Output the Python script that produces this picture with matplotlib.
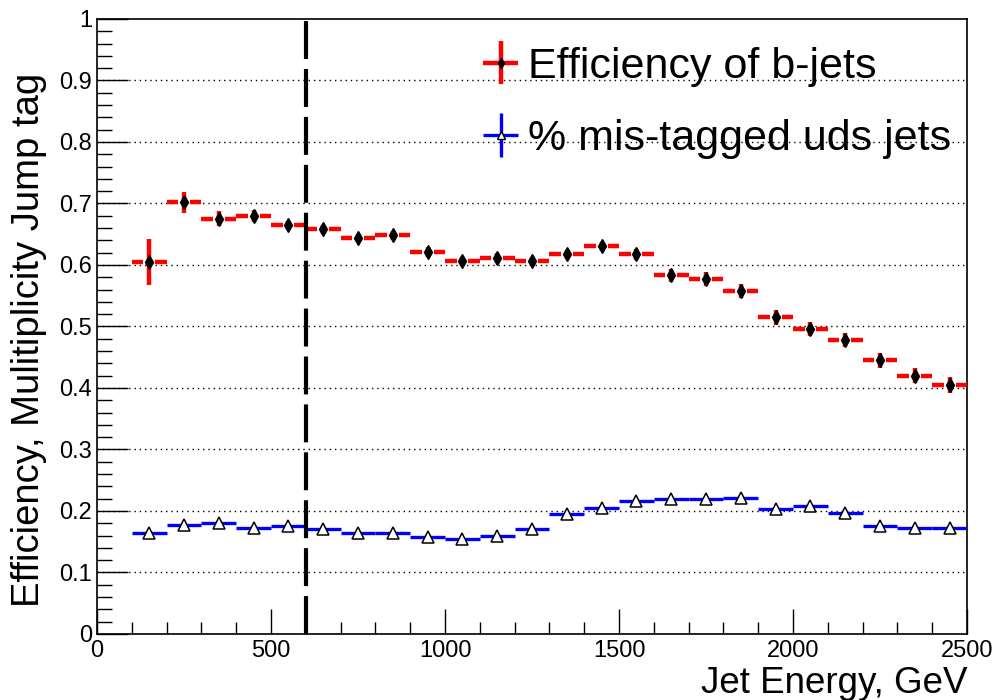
import numpy as np
import matplotlib
matplotlib.use('Agg')
import matplotlib.pyplot as plt
from matplotlib.ticker import MultipleLocator, FormatStrFormatter
from matplotlib.legend_handler import HandlerErrorbar

plt.rcParams['font.family'] = ['Liberation Sans', 'DejaVu Sans']

# bin centres (GeV), 100 GeV wide bins
energy = [150, 250, 350, 450, 550, 650, 750, 850, 950, 1050, 1150, 1250,
          1350, 1450, 1550, 1650, 1750, 1850, 1950, 2050, 2150, 2250, 2350, 2450]
bin_half = 50

eff_b = [0.605, 0.702, 0.675, 0.679, 0.665, 0.658, 0.644, 0.648, 0.621, 0.606, 0.611, 0.606,
         0.617, 0.630, 0.617, 0.583, 0.577, 0.558, 0.515, 0.496, 0.478, 0.445, 0.420, 0.404]
eff_b_err = [0.037, 0.017, 0.012, 0.010, 0.007, 0.007, 0.007, 0.007, 0.008, 0.007, 0.008, 0.007,
             0.008, 0.008, 0.009, 0.010, 0.011, 0.011, 0.012, 0.012, 0.012, 0.012, 0.012, 0.013]

mistag_uds = [0.164, 0.178, 0.180, 0.173, 0.176, 0.170, 0.164, 0.164, 0.158, 0.154, 0.159, 0.170,
              0.195, 0.205, 0.217, 0.219, 0.219, 0.221, 0.204, 0.208, 0.197, 0.176, 0.173, 0.173]

cut_energy = 600

x = np.array(energy)
gap = 17

fig = plt.figure(figsize=(9.98, 7.0), dpi=100)
ax = fig.add_axes([0.0972, 0.0943, 0.969 - 0.0972, 0.973 - 0.0943])

# grid
for yv in np.arange(0.1, 1.0, 0.1):
    ax.axhline(yv, color='black', linestyle=(0, (1, 2.8)), linewidth=1.0, zorder=1)

# blue: mis-tagged uds
ax.hlines(mistag_uds, x - bin_half, x + bin_half, color='blue', linewidth=2.4, zorder=3)
ax.plot(x, mistag_uds, linestyle='none', marker='^', markersize=9,
        markerfacecolor='white', markeredgecolor='black', markeredgewidth=1.1, zorder=4)

# red: b-jet efficiency
y = np.array(eff_b)
ax.hlines(y, x - bin_half, x - gap, color='red', linewidth=3.2, zorder=3)
ax.hlines(y, x + gap, x + bin_half, color='red', linewidth=3.2, zorder=3)
ax.vlines(x, y - np.array(eff_b_err), y + np.array(eff_b_err), color='red', linewidth=3.2, zorder=3)
ax.plot(x, y, linestyle='none', marker='d', markersize=7.5, color='black', zorder=5)

# cut line
ax.axvline(cut_energy, color='black', linewidth=3.0, dashes=(9.1, 2.4), zorder=6)

ax.set_xlim(0, 2500)
ax.set_ylim(0, 1)
ax.xaxis.set_major_locator(MultipleLocator(500))
ax.xaxis.set_minor_locator(MultipleLocator(100))
ax.yaxis.set_major_locator(MultipleLocator(0.1))
ax.yaxis.set_minor_locator(MultipleLocator(0.02))
ax.yaxis.set_major_formatter(FormatStrFormatter('%g'))
ax.tick_params(which='both', direction='in', labelsize=17, width=1.0)
ax.tick_params(which='major', length=18)
ax.tick_params(which='minor', length=9)
ax.tick_params(axis='y', which='major', length=22)
ax.tick_params(axis='y', which='minor', length=11)
ax.tick_params(axis='x', pad=4)
for sp in ax.spines.values():
    sp.set_linewidth(1.2)

ax.set_xlabel('Jet Energy, GeV', fontsize=26.5, loc='right', labelpad=3)
ax.set_ylabel('Efficiency, Mulitiplicity Jump tag', fontsize=27.5)
ax.yaxis.set_label_coords(-0.057, 0.478)

# legend handles: dummy error-bar crosses
h_red = ax.errorbar([np.nan], [np.nan], xerr=1, yerr=1, fmt='d', markersize=5,
                    color='black', ecolor='red', elinewidth=3.2)
h_blue = ax.errorbar([np.nan], [np.nan], xerr=1, yerr=1, fmt='^', markersize=6,
                     markerfacecolor='white', markeredgecolor='black',
                     ecolor='blue', elinewidth=2.4)
cross = HandlerErrorbar(xerr_size=0.41, yerr_size=0.51)
leg = ax.legend([h_red, h_blue], ['Efficiency of b-jets', '% mis-tagged uds jets'],
                handler_map={h_red: cross, h_blue: cross},
                loc='upper left', bbox_to_anchor=(0.407, 1.018), frameon=False,
                fontsize=31, handlelength=0.5, handletextpad=0.38, labelspacing=0.75)

fig.savefig('out.png', dpi=100)
